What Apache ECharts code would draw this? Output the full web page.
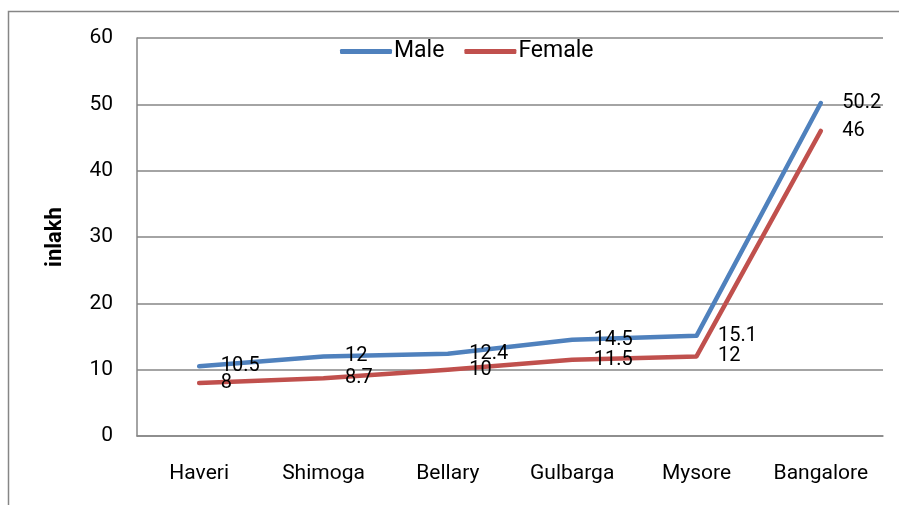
<!DOCTYPE html>
<html>
<head>
<meta charset="utf-8">
<script src="https://cdn.jsdelivr.net/npm/echarts@6/dist/echarts.min.js"></script>
<style>
  html, body { margin: 0; padding: 0; background: #fff; }
  #chart { width: 899px; height: 505px; }
</style>
</head>
<body>
<div id="chart"></div>
<script>
// datos
var districts = ['Haveri', 'Shimoga', 'Bellary', 'Gulbarga', 'Mysore', 'Bangalore'];
var male = [10.5, 12, 12.4, 14.5, 15.1, 50.2];
var female = [8, 8.7, 10, 11.5, 12, 46];
var yTicks = [0, 10, 20, 30, 40, 50, 60];

var font = 'Roboto, "Liberation Sans", sans-serif';

document.addEventListener("DOMContentLoaded", function () {
    var chart = echarts.init(document.getElementById('chart'));

    function lineSerie(name, values, color) {
        return {
            name: name,
            type: 'line',
            data: values,
            symbol: 'circle',
            symbolSize: 1,
            showSymbol: true,
            lineStyle: { width: 4.5, color: color, cap: 'round', join: 'round' },
            itemStyle: { color: color },
            label: {
                show: true,
                position: 'right',
                distance: 21,
                color: '#000',
                fontSize: 20,
                fontFamily: font
            },
            z: 3
        };
    }

    var option = {
        animation: false,
        backgroundColor: '#fff',
        grid: { left: 137, right: 16, top: 38, bottom: 69, containLabel: false },
        legend: {
            data: ['Male', 'Female'],
            left: 335,
            top: 35,
            itemWidth: 52,
            itemHeight: 5,
            itemGap: 20,
            icon: 'roundRect',
            textStyle: { fontSize: 23, color: '#000', fontFamily: font, padding: [0, 0, 0, -3] }
        },
        xAxis: {
            type: 'category',
            data: districts,
            boundaryGap: true,
            axisLine: { show: true, lineStyle: { color: '#868686', width: 1.5 } },
            axisTick: { show: false },
            axisLabel: { color: '#000', fontSize: 21, fontFamily: font, margin: 27 }
        },
        yAxis: {
            type: 'value',
            min: yTicks[0],
            max: yTicks[yTicks.length - 1],
            interval: 10,
            name: 'inlakh',
            nameLocation: 'middle',
            nameGap: 71,
            nameTextStyle: { fontSize: 22, fontWeight: 'bold', color: '#000', fontFamily: font },
            axisLine: { show: true, lineStyle: { color: '#868686', width: 1.5 } },
            axisTick: { show: false },
            axisLabel: { color: '#000', fontSize: 21, fontFamily: font, margin: 24 },
            splitLine: { show: true, lineStyle: { color: '#868686', width: 1.5 } }
        },
        graphic: [
            {
                type: 'rect',
                shape: { x: 8.5, y: 11.5, width: 1000, height: 600 },
                style: { fill: 'none', stroke: '#868686', lineWidth: 1.5 },
                silent: true
            }
        ],
        series: [
            lineSerie('Male', male, '#4F81BD'),
            lineSerie('Female', female, '#C0504D')
        ]
    };

    chart.setOption(option);
});
</script>
</body>
</html>
